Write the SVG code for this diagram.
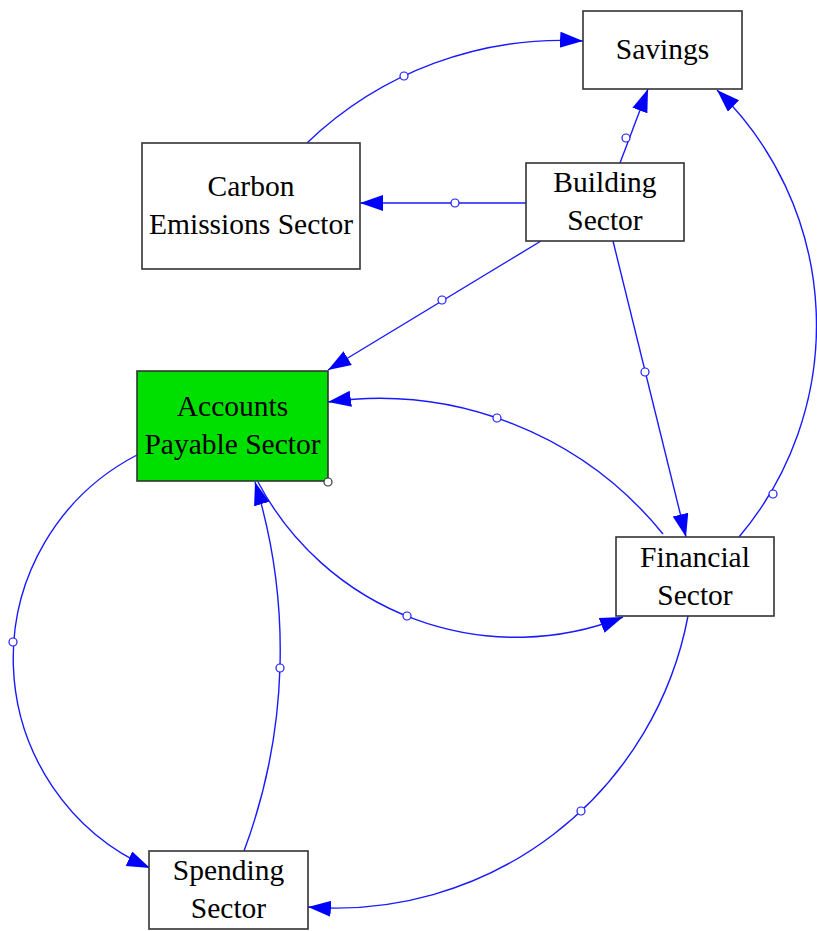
<svg xmlns="http://www.w3.org/2000/svg" width="817" height="931" viewBox="0 0 817 931">
<style>
.box{fill:#ffffff;stroke:#333333;stroke-width:1.6}
.lbl{font-family:"Liberation Serif","Times New Roman",serif;font-size:29.5px;fill:#000000;text-anchor:middle}
.link{fill:none;stroke:#1a1aff;stroke-width:1.4;marker-end:url(#arr)}
.dot{fill:#ffffff;stroke:#1a1aff;stroke-width:1.2}
</style>
<defs>
<marker id="arr" markerUnits="userSpaceOnUse" markerWidth="26" markerHeight="18" refX="23" refY="8" orient="auto">
<path d="M0,0 L23,8 L0,16 z" fill="#0000ff"/>
</marker>
</defs>
<rect width="817" height="931" fill="#ffffff"/>
<g id="connectors">
<path class="link" d="M307 143 A368 368 0 0 1 583 41"/>
<path class="link" d="M526 203 L360 203"/>
<path class="link" d="M620 163 L648 89"/>
<path class="link" d="M541 241 L328 370"/>
<path class="link" d="M613 241 L686 537"/>
<path class="link" d="M739 537 A328 328 0 0 0 717 90"/>
<path class="link" d="M663 534 A365 365 0 0 0 328 402"/>
<path class="link" d="M258 482 A292 292 0 0 0 623 617"/>
<path class="link" d="M137 455 A229 229 0 0 0 150 868"/>
<path class="link" d="M244 851 A574 574 0 0 0 255 482"/>
<path class="link" d="M688 616 A358.5 358.5 0 0 1 308 907"/>
<circle class="dot" cx="404" cy="76" r="4"/>
<circle class="dot" cx="455" cy="203" r="4"/>
<circle class="dot" cx="626" cy="138" r="4"/>
<circle class="dot" cx="442" cy="300" r="4"/>
<circle class="dot" cx="645" cy="372" r="4"/>
<circle class="dot" cx="773" cy="494" r="4"/>
<circle class="dot" cx="497" cy="418" r="4"/>
<circle class="dot" cx="407" cy="616" r="4"/>
<circle class="dot" cx="13" cy="642" r="4"/>
<circle class="dot" cx="280" cy="668" r="4"/>
<circle class="dot" cx="581" cy="811" r="4"/>
</g>
<g id="savings">
<rect class="box" x="583" y="11" width="159" height="78"/>
<text class="lbl" x="662.5" y="59">Savings</text>
</g>
<g id="building">
<rect class="box" x="526" y="163" width="158" height="78"/>
<text class="lbl" x="605" y="192">Building</text>
<text class="lbl" x="605" y="230">Sector</text>
</g>
<g id="carbon">
<rect class="box" x="142" y="143" width="218" height="126"/>
<text class="lbl" x="251" y="196">Carbon</text>
<text class="lbl" x="251" y="234">Emissions Sector</text>
</g>
<g id="accounts">
<rect class="box" x="137" y="371" width="191" height="110" style="fill:#00e000"/>
<text class="lbl" x="232.5" y="416">Accounts</text>
<text class="lbl" x="232.5" y="454">Payable Sector</text>
<circle cx="328" cy="482" r="4" fill="#ffffff" stroke="#333333" stroke-width="1.2"/>
</g>
<g id="financial">
<rect class="box" x="616" y="537" width="158" height="79"/>
<text class="lbl" x="695" y="566.5">Financial</text>
<text class="lbl" x="695" y="604.5">Sector</text>
</g>
<g id="spending">
<rect class="box" x="149" y="851" width="159" height="78"/>
<text class="lbl" x="228.5" y="880">Spending</text>
<text class="lbl" x="228.5" y="918">Sector</text>
</g>
</svg>
